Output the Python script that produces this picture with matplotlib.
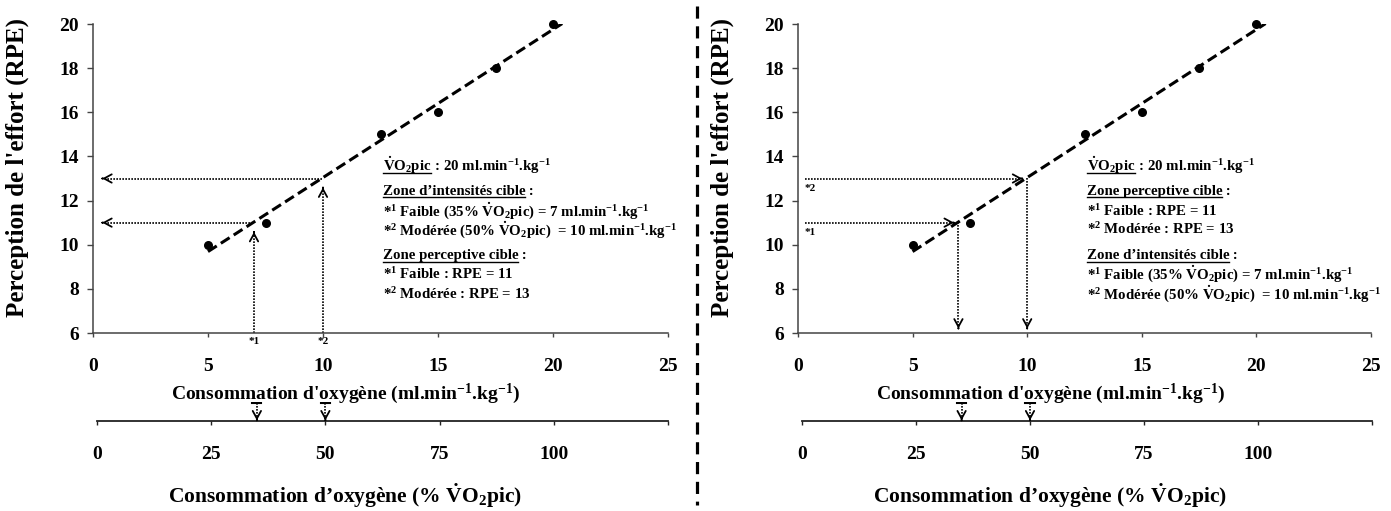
import matplotlib
matplotlib.use('Agg')
import matplotlib.pyplot as plt
import numpy as np
from matplotlib.lines import Line2D

plt.rcParams['font.family'] = ['Liberation Serif', 'DejaVu Serif']
plt.rcParams['font.weight'] = 'bold'
plt.rcParams['mathtext.fontset'] = 'custom'
plt.rcParams['mathtext.rm'] = 'Liberation Serif:bold'
plt.rcParams['mathtext.it'] = 'Liberation Serif:bold'
plt.rcParams['mathtext.bf'] = 'Liberation Serif:bold'
plt.rcParams['mathtext.default'] = 'rm'

# ---------------- data ----------------
vo2 = [5, 7.5, 12.5, 15, 17.5, 20]          # ml.min-1.kg-1
rpe = [10, 11, 15, 16, 18, 20]              # RPE
trend_range = [5, 20.4]
target_vo2 = [7, 10]
target_pct = [35, 50]
target_rpe = [11, 13]
target_marks = ['*1', '*2']
x_ticks = [0, 5, 10, 15, 20, 25]
y_ticks = [6, 8, 10, 12, 14, 16, 18, 20]
pct_ticks = [0, 25, 50, 75, 100, 125]
pct_labels = ['0', '25', '50', '75', '100', '']

VO2 = r'$\dot{\mathrm{V}}$O$_{2}$pic'
UNIT = r'ml.min$^{-1}$.kg$^{-1}$'
block_intens = [
    ('Zone d’intensités cible', ' :'),
    (None, r'*$^{1}$ Faible (35% ' + VO2 + ') = 7 ' + UNIT),
    (None, r'*$^{2}$ Modérée (50% ' + VO2 + ')  = 10 ' + UNIT),
]
block_percep = [
    ('Zone perceptive cible', ' :'),
    (None, r'*$^{1}$ Faible : RPE = 11'),
    (None, r'*$^{2}$ Modérée : RPE = 13'),
]
head_line = (VO2, ' : 20 ' + UNIT)
text_y = [13.36, 12.27, 11.32, 10.47, 9.35, 8.45, 7.55]
text_x = 12.6
XLABEL = r"Consommation d'oxygène (ml.min$^{-1}$.kg$^{-1}$)"
YLABEL = "Perception de l'effort (RPE)"
PCTLABEL = 'Consommation d’oxygène (% ' + VO2 + ')'

W, H = 1391, 511
fig = plt.figure(figsize=(W / 100, H / 100), dpi=100)

def rect(x0, x1, ytop, ybot):
    return [x0 / W, 1 - ybot / H, (x1 - x0) / W, (ybot - ytop) / H]

slope, intercept = np.polyfit(vo2, rpe, 1)
fit = lambda x: slope * x + intercept

AX_COL = '#444444'
DOT = (0, (1.0, 0.8))
TXT = 10.7
arrow_kw = dict(arrowstyle='->,head_length=0.55,head_width=0.3', lw=1.3,
                color='black', shrinkA=0, shrinkB=0)

def head_arrow(ax, xy, direction):
    dx, dy = direction
    ax.annotate('', xy=xy, xytext=(xy[0] - dx * 0.01, xy[1] - dy * 0.01),
                arrowprops=arrow_kw, annotation_clip=False)

def main_axes(x0, x1):
    ax = fig.add_axes(rect(x0, x1, 24, 333))
    ax.set_xlim(0, 25)
    ax.set_ylim(6, 20)
    for s in ['top', 'right']:
        ax.spines[s].set_visible(False)
    for s in ['left', 'bottom']:
        ax.spines[s].set_color(AX_COL)
        ax.spines[s].set_linewidth(1.1)
    ax.set_xticks(x_ticks)
    ax.set_yticks(y_ticks)
    ax.tick_params(axis='x', direction='out', length=3, width=1, color=AX_COL,
                   labelsize=14, pad=15)
    ax.tick_params(axis='y', direction='out', length=4, width=1, color=AX_COL,
                   labelsize=14, pad=6)
    for lab in ax.get_xticklabels() + ax.get_yticklabels():
        lab.set_fontweight('bold')
    ax.set_xlabel(XLABEL, fontsize=14, fontweight='bold', labelpad=5)
    ax.xaxis.label.set_x(0.44)
    ax.set_ylabel(YLABEL, fontsize=18, fontweight='bold')
    ax.yaxis.set_label_coords(-0.112, 0.535)
    ax.scatter(vo2, rpe, s=30, color='black', zorder=4, clip_on=False)
    xs = np.array(trend_range)
    ax.plot(xs, fit(xs), color='black', lw=2.2, dashes=(3.4, 1.6), zorder=3)
    ax.patch.set_alpha(0)
    return ax

def pct_axes(x0, x1):
    ax = fig.add_axes(rect(x0, x1, 402, 421))
    ax.set_xlim(0, 125)
    ax.set_ylim(0, 1)
    for s in ['top', 'right', 'left']:
        ax.spines[s].set_visible(False)
    ax.spines['bottom'].set_color('#222222')
    ax.spines['bottom'].set_linewidth(1.3)
    ax.set_yticks([])
    ax.set_xticks(pct_ticks)
    ax.set_xticklabels(pct_labels)
    ax.tick_params(axis='x', direction='out', length=3, width=1, color='#222222',
                   labelsize=14, pad=15)
    for lab in ax.get_xticklabels():
        lab.set_fontweight('bold')
    ax.set_xlabel(PCTLABEL, fontsize=15.5, fontweight='bold', labelpad=13)
    ax.xaxis.label.set_x(0.435)
    ax.patch.set_alpha(0)
    for p in target_pct:
        ax.plot([p, p], [0.95, 0.12], color='black', lw=1.2, linestyle=DOT)
        ax.plot([p - 1.0, p + 1.0], [0.95, 0.95], color='black', lw=1.5)
        head_arrow(ax, (p, 0.03), (0, -1))
    return ax

def text_block(ax, lines):
    heads = []
    for (head, rest), y in zip(lines, text_y):
        if head is not None:
            t = ax.text(text_x, y, head, fontsize=TXT, fontweight='bold',
                        va='baseline', ha='left')
            heads.append((ax, t, rest, y))
        else:
            ax.text(text_x, y, rest, fontsize=TXT, fontweight='bold',
                    va='baseline', ha='left')
    return heads

all_heads = []

# ---------------- left panel ----------------
axL = main_axes(93, 668)
for xv, yv, mk in zip(target_vo2, target_rpe, target_marks):
    xl = (yv - intercept) / slope
    axL.plot([xl, 0.55], [yv, yv], color='black', lw=1.2, linestyle=DOT)
    head_arrow(axL, (0.4, yv), (-1, 0))
    ytop = fit(xv) - 0.45
    axL.plot([xv, xv], [6, ytop - 0.1], color='black', lw=1.2, linestyle=DOT)
    head_arrow(axL, (xv, ytop), (0, 1))
    axL.annotate(mk, xy=(xv, 6), xytext=(0, -3), textcoords='offset points',
                 ha='center', va='top', fontsize=8, fontweight='bold',
                 annotation_clip=False)
linesL = [head_line] + block_intens + block_percep
all_heads += text_block(axL, linesL)
pct_axes(97, 668)

# ---------------- right panel ----------------
axR = main_axes(798, 1371)
for xv, yv, mk in zip(target_vo2, target_rpe, target_marks):
    xl = (yv - intercept) / slope - 0.15
    axR.plot([0.3, xl - 0.1], [yv, yv], color='black', lw=1.2, linestyle=DOT)
    head_arrow(axR, (xl, yv), (1, 0))
    axR.annotate(mk, xy=(0.3, yv), xytext=(0, -4), textcoords='offset points',
                 ha='left', va='top', fontsize=8, fontweight='bold')
    ybot = 6.2
    axR.plot([xv, xv], [fit(xv), ybot + 0.1], color='black', lw=1.2, linestyle=DOT)
    head_arrow(axR, (xv, ybot), (0, -1))
linesR = [head_line] + block_percep + block_intens
all_heads += text_block(axR, linesR)
pct_axes(802, 1372)

# ---------------- divider ----------------
fig.add_artist(Line2D([697 / W, 697 / W], [1 - 6 / H, 1 - 505 / H],
                      transform=fig.transFigure, color='black', lw=2.3,
                      dashes=(3.8, 2.4)))

# underlined headings + their continuation
fig.canvas.draw()
r = fig.canvas.get_renderer()
for ax, t, rest, y in all_heads:
    bb = t.get_window_extent(r)
    _, yb = ax.transData.transform((text_x, y))
    ax.annotate(rest, xy=(bb.x1, yb), xycoords='figure pixels', fontsize=TXT,
                fontweight='bold', va='baseline', ha='left')
    fig.add_artist(Line2D([bb.x0 / W, bb.x1 / W], [(yb - 2.5) / H, (yb - 2.5) / H],
                          transform=fig.transFigure, color='black', lw=1.0))

fig.savefig('out.png', dpi=100)
